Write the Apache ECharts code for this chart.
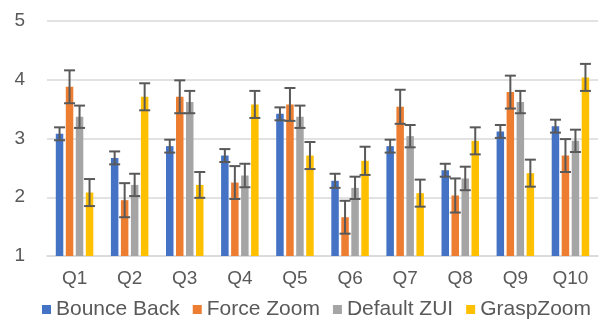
<!DOCTYPE html>
<html>
<head>
<meta charset="utf-8">
<script src="https://cdn.jsdelivr.net/npm/echarts@6/dist/echarts.min.js"></script>
<style>html,body{margin:0;padding:0;background:#fff}#c{width:601px;height:325px}</style>
</head>
<body>
<div id="c"></div>
<script>
const categories = ['Q1','Q2','Q3','Q4','Q5','Q6','Q7','Q8','Q9','Q10'];
const seriesNames = ['Bounce Back','Force Zoom','Default ZUI','GraspZoom'];
const bounceBack = [3.08, 2.67, 2.87, 2.71, 3.42, 2.28, 2.87, 2.46, 3.12, 3.21];
const forceZoom  = [3.88, 1.95, 3.71, 2.25, 3.58, 1.66, 3.54, 2.03, 3.79, 2.71];
const defaultZUI = [3.37, 2.21, 3.62, 2.37, 3.37, 2.16, 3.04, 2.32, 3.62, 2.96];
const graspZoom  = [2.08, 3.71, 2.21, 3.58, 2.71, 2.62, 2.07, 2.96, 2.41, 4.04];
const bounceBackErr = [0.11, 0.11, 0.11, 0.11, 0.11, 0.12, 0.11, 0.11, 0.11, 0.11];
const forceZoomErr  = [0.28, 0.29, 0.28, 0.28, 0.28, 0.28, 0.29, 0.29, 0.28, 0.28];
const defaultZUIErr = [0.19, 0.19, 0.19, 0.20, 0.19, 0.19, 0.19, 0.20, 0.19, 0.19];
const graspZoomErr  = [0.23, 0.23, 0.22, 0.23, 0.23, 0.24, 0.23, 0.23, 0.23, 0.23];
const yTicks = [1, 2, 3, 4, 5];

const values = [bounceBack, forceZoom, defaultZUI, graspZoom];
const errs = [bounceBackErr, forceZoomErr, defaultZUIErr, graspZoomErr];
const colors = ['#4472C4', '#ED7D31', '#A5A5A5', '#FFC000'];
const font = "'Liberation Sans', Arial, sans-serif";
const barW = 7.5, gapW = 2.5, nS = 4;
const pitch = barW + gapW;

const series = [];
values.forEach((v, i) => {
  series.push({
    name: seriesNames[i], type: 'bar', data: v, barWidth: barW,
    barGap: (gapW / barW * 100) + '%',
    itemStyle: { color: colors[i] }, z: 2
  });
});
errs.forEach((e, i) => {
  const off = (i - (nS - 1) / 2) * pitch;
  series.push({
    name: 'err' + i, type: 'custom', z: 5,
    data: values[i].map((v, k) => [k, v - e[k], v + e[k]]),
    renderItem: (params, api) => {
      const lo = api.coord([api.value(0), api.value(1)]);
      const hi = api.coord([api.value(0), api.value(2)]);
      const x = lo[0] + off, cw = 5.5;
      const st = { stroke: '#595959', lineWidth: 2 };
      return { type: 'group', children: [
        { type: 'line', shape: { x1: x, y1: lo[1], x2: x, y2: hi[1] }, style: st },
        { type: 'line', shape: { x1: x - cw, y1: hi[1], x2: x + cw, y2: hi[1] }, style: st },
        { type: 'line', shape: { x1: x - cw, y1: lo[1], x2: x + cw, y2: lo[1] }, style: st }
      ]};
    }
  });
});

const chart = echarts.init(document.getElementById('c'), null, { renderer: 'canvas' });
chart.setOption({
  animation: false,
  textStyle: { fontFamily: font },
  grid: { left: 47, right: 3, top: 21, bottom: 69, containLabel: false },
  legend: {
    data: seriesNames, left: 42, top: 299, padding: 0, icon: 'rect', itemWidth: 9, itemHeight: 9,
    itemGap: 13,
    textStyle: { fontSize: 21, color: '#595959', fontFamily: font }
  },
  xAxis: {
    type: 'category', data: categories,
    axisLine: { show: true, lineStyle: { color: '#d9d9d9', width: 1.5 } },
    axisTick: { show: false },
    axisLabel: { fontSize: 19, color: '#595959', margin: 13, fontFamily: font }
  },
  yAxis: {
    type: 'value', min: yTicks[0], max: yTicks[yTicks.length - 1], interval: 1,
    axisLine: { show: false }, axisTick: { show: false },
    splitLine: { lineStyle: { color: '#d9d9d9', width: 1.5 } },
    axisLabel: { fontSize: 19, color: '#595959', margin: 22, fontFamily: font }
  },
  series: series
});
</script>
</body>
</html>
